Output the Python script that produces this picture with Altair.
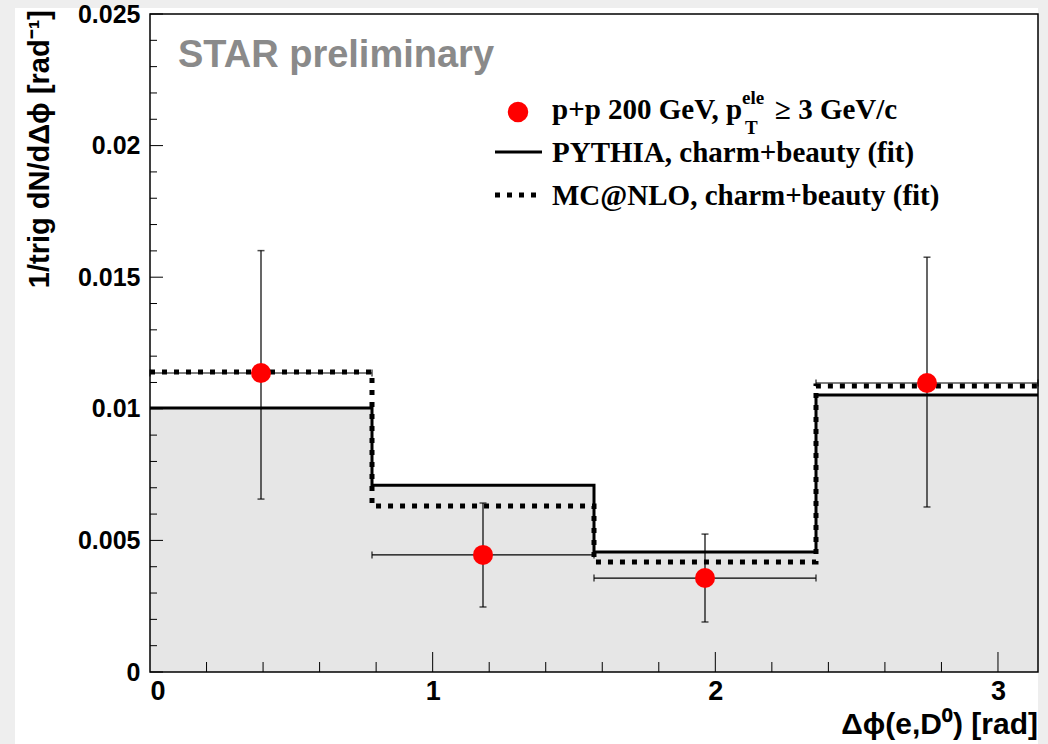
import numpy as np
import pandas as pd
import altair as alt

# ---- data ----
bin_edges = [0.0, np.pi / 4, np.pi / 2, 3 * np.pi / 4, np.pi]
pythia = [0.01003, 0.00710, 0.00456, 0.01052]
mcnlo = [0.01140, 0.00631, 0.00418, 0.01087]

pt_x = [np.pi / 8, 3 * np.pi / 8, 5 * np.pi / 8, 7 * np.pi / 8]
pt_xerr = [np.pi / 8, np.pi / 8, np.pi / 8, np.pi / 8]
pt_y = [0.01136, 0.00445, 0.00357, 0.01098]
pt_ylo = [0.00657, 0.00247, 0.00190, 0.00627]
pt_yhi = [0.01601, 0.00642, 0.00524, 0.01576]

y_major = [0.0, 0.005, 0.01, 0.015, 0.02, 0.025]
y_minor = [0.001, 0.002, 0.003, 0.004, 0.006, 0.007, 0.008, 0.009,
           0.011, 0.012, 0.013, 0.014, 0.016, 0.017, 0.018, 0.019,
           0.021, 0.022, 0.023, 0.024]
x_major = [1, 2, 3]
x_minor = [0.2, 0.4, 0.6, 0.8, 1.2, 1.4, 1.6, 1.8, 2.2, 2.4, 2.6, 2.8]

W, H = 888, 658

hist = pd.DataFrame({
    "x": bin_edges,
    "pythia": pythia + [pythia[-1]],
    "mcnlo": mcnlo + [mcnlo[-1]],
})
pts = pd.DataFrame({
    "x": pt_x,
    "xlo": [a - b for a, b in zip(pt_x, pt_xerr)],
    "xhi": [a + b for a, b in zip(pt_x, pt_xerr)],
    "y": pt_y, "ylo": pt_ylo, "yhi": pt_yhi,
})

xscale = alt.Scale(domain=[0, np.pi], nice=False, zero=False)
yscale = alt.Scale(domain=[0, 0.025], nice=False)
xaxis = alt.Axis(values=[0, 1, 2, 3], format="d", ticks=False, domain=False, grid=False,
                 labelFont="Liberation Sans", labelFontWeight="bold", labelFontSize=27,
                 labelColor="black", labelPadding=6, title="", zindex=2)
yaxis = alt.Axis(values=y_major, ticks=False, domain=False, grid=False,
                 labelExpr="datum.value == 0 ? '0' : format(datum.value, '.3~f')",
                 labelFont="Liberation Sans", labelFontWeight="bold", labelFontSize=25,
                 labelColor="black", labelPadding=10, title="", zindex=2)


def X(f):
    return alt.X(f, type="quantitative", scale=xscale, axis=xaxis)


def Y(f):
    return alt.Y(f, type="quantitative", scale=yscale, axis=yaxis)


one = pd.DataFrame({"a": [0]})

paper = alt.Chart(one).mark_rect(color="white").encode(
    x=alt.value(-135), x2=alt.value(W), y=alt.value(-6), y2=alt.value(H + 80))

area = alt.Chart(hist).mark_area(interpolate="step-after", color="#e6e6e6").encode(
    x=X("x"), y=Y("pythia"))
line_p = alt.Chart(hist).mark_line(interpolate="step-after", color="black", strokeWidth=3).encode(
    x=X("x"), y=Y("pythia"))
line_m = alt.Chart(hist).mark_line(interpolate="step-after", color="black", strokeWidth=5,
                                   strokeDash=[5, 7]).encode(x=X("x"), y=Y("mcnlo"))

vbar = alt.Chart(pts).mark_rule(color="black", strokeWidth=1.2).encode(
    x=X("x"), y=Y("ylo"), y2="yhi")
hbar = alt.Chart(pts).mark_rule(color="black", strokeWidth=1.2).encode(
    x=X("xlo"), x2="xhi", y=Y("y"))
cap_lo = alt.Chart(pts).mark_tick(orient="horizontal", color="black", size=7, thickness=1.5).encode(
    x=X("x"), y=Y("ylo"))
cap_hi = alt.Chart(pts).mark_tick(orient="horizontal", color="black", size=7, thickness=1.5).encode(
    x=X("x"), y=Y("yhi"))
cap_l = alt.Chart(pts).mark_tick(orient="vertical", color="black", size=7, thickness=1.5).encode(
    x=X("xlo"), y=Y("y"))
cap_r = alt.Chart(pts).mark_tick(orient="vertical", color="black", size=7, thickness=1.5).encode(
    x=X("xhi"), y=Y("y"))
dots = alt.Chart(pts).mark_circle(color="#ff0000", opacity=1, size=400).encode(
    x=X("x"), y=Y("y"))

# inner ticks
ytmaj = alt.Chart(pd.DataFrame({"v": y_major})).mark_rule(color="black", strokeWidth=1).encode(
    y=Y("v"), x=alt.value(0), x2=alt.value(13))
ytmin = alt.Chart(pd.DataFrame({"v": y_minor})).mark_rule(color="black", strokeWidth=1).encode(
    y=Y("v"), x=alt.value(0), x2=alt.value(7))
xtmaj = alt.Chart(pd.DataFrame({"v": x_major})).mark_rule(color="black", strokeWidth=1).encode(
    x=X("v"), y=alt.value(H), y2=alt.value(H - 20))
xtmin = alt.Chart(pd.DataFrame({"v": x_minor})).mark_rule(color="black", strokeWidth=1).encode(
    x=X("v"), y=alt.value(H), y2=alt.value(H - 10))

frame = alt.Chart(one).mark_rect(fill=None, stroke="black", strokeWidth=1.5).encode(
    x=alt.value(0), x2=alt.value(W), y=alt.value(0), y2=alt.value(H))


def txt(s, x, y, size, font="Liberation Sans", weight="bold", color="black", align="left",
        baseline="middle", angle=0):
    kw = dict(text=s, font=font, fontSize=size, fontWeight=weight, color=color, align=align,
              baseline=baseline)
    if angle:
        kw["angle"] = angle
    return alt.Chart(one).mark_text(**kw).encode(x=alt.value(x), y=alt.value(y))


star = txt("STAR preliminary", 28, 53, 38, color="#8a8a8a", baseline="alphabetic")
ytitle = txt("1/trig dN/dΔϕ [rad⁻¹]", -110, -4, 29, align="right", angle=270)
xtitle = txt("Δϕ(e,D⁰) [rad]", W, H + 62, 30, align="right", baseline="alphabetic")

leg_dot = alt.Chart(one).mark_circle(color="#ff0000", opacity=1, size=420).encode(
    x=alt.value(368), y=alt.value(98))
leg_l1 = alt.Chart(one).mark_rule(color="black", strokeWidth=3).encode(
    x=alt.value(345), x2=alt.value(392), y=alt.value(138))
leg_l2 = alt.Chart(one).mark_rule(color="black", strokeWidth=5, strokeDash=[5, 7]).encode(
    x=alt.value(345), x2=alt.value(392), y=alt.value(181))
serif = "Liberation Serif"
t1 = txt("p+p 200 GeV, p", 402, 96, 29, font=serif)
t1a = txt("ele", 592, 84, 19, font=serif)
t1b = txt("T", 595, 114, 19, font=serif)
t1c = txt("≥ 3 GeV/c", 625, 96, 29, font=serif)
t2 = txt("PYTHIA, charm+beauty (fit)", 402, 139, 29, font=serif)
t3 = txt("MC@NLO, charm+beauty (fit)", 402, 182, 29, font=serif)

chart = alt.layer(
    paper, area, line_p, line_m,
    vbar, hbar, cap_lo, cap_hi, cap_l, cap_r, dots,
    ytmaj, ytmin, xtmaj, xtmin, frame,
    star, ytitle, xtitle, leg_dot, leg_l1, leg_l2, t1, t1a, t1b, t1c, t2, t3,
).properties(
    width=W, height=H,
    autosize=alt.AutoSizeParams(type="none"),
    padding={"left": 150, "top": 14, "right": 10, "bottom": 72},
    background="#eeeeee",
).configure_view(stroke=None, fill="white")

chart.save("out.html", embed_options={"renderer": "svg", "actions": False})
